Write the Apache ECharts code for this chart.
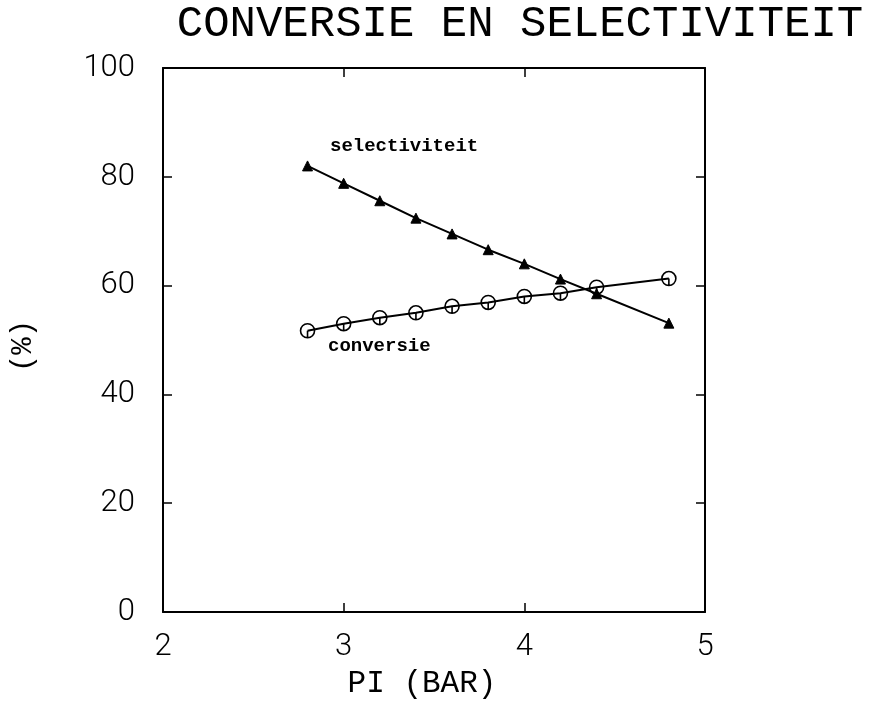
<!DOCTYPE html>
<html>
<head>
<meta charset="utf-8">
<script src="https://cdn.jsdelivr.net/npm/echarts@6/dist/echarts.min.js"></script>
<style>
  html, body { margin: 0; padding: 0; background: #fff; }
  #chart { width: 878px; height: 705px; }
</style>
</head>
<body>
<div id="chart"></div>
<script>
// Pressure PI (bar) at each measurement
const pressure = [2.8, 3.0, 3.2, 3.4, 3.6, 3.8, 4.0, 4.2, 4.4, 4.8];
// Selectivity (%) per pressure
const selectiviteit = [82.0, 78.8, 75.6, 72.4, 69.5, 66.6, 64.0, 61.2, 58.5, 53.1];
// Conversion (%) per pressure
const conversie = [51.7, 53.0, 54.1, 55.0, 56.2, 56.9, 58.0, 58.6, 59.7, 61.3];

const titleText = 'CONVERSIE EN SELECTIVITEIT';
const xName = 'PI (BAR)';
const yName = '(%)';

const chart = echarts.init(document.getElementById('chart'), null, { renderer: 'canvas' });

const tickFont = { fontFamily: 'Roboto', fontSize: 31, fontWeight: 300, color: '#000' };
const frameLine = { show: true, onZero: false, lineStyle: { color: '#000', width: 2 } };
const innerTick = { show: true, inside: true, length: 9, lineStyle: { color: '#000', width: 1.5 } };

function pairs(xs, ys) { return xs.map((x, i) => [x, ys[i]]); }

// circle with a short vertical stroke in its lower half
const circleMark = 'path://M10,0A10,10,0,1,1,-10,0A10,10,0,1,1,10,0ZM0,0L0,10';

chart.setOption({
  animation: false,
  backgroundColor: '#fff',
  grid: { left: 163, right: 173, top: 68, bottom: 93, containLabel: false },
  xAxis: [
    {
      type: 'value', position: 'bottom', min: 2, max: 5, interval: 1,
      axisLine: frameLine, axisTick: innerTick, splitLine: { show: false },
      axisLabel: Object.assign({ margin: 20 }, tickFont)
    },
    {
      type: 'value', position: 'top', min: 2, max: 5, interval: 1,
      axisLine: frameLine, axisTick: innerTick, splitLine: { show: false },
      axisLabel: { show: false }
    }
  ],
  yAxis: [
    {
      type: 'value', position: 'left', min: 0, max: 100, interval: 20,
      axisLine: frameLine, axisTick: innerTick, splitLine: { show: false },
      axisLabel: Object.assign({ margin: 28 }, tickFont)
    },
    {
      type: 'value', position: 'right', min: 0, max: 100, interval: 20,
      axisLine: frameLine, axisTick: innerTick, splitLine: { show: false },
      axisLabel: { show: false }
    }
  ],
  series: [
    {
      name: 'selectiviteit', type: 'line',
      data: pairs(pressure, selectiviteit),
      symbol: 'triangle', symbolSize: 10,
      lineStyle: { color: '#000', width: 2 },
      itemStyle: { color: '#000', borderColor: '#000', borderWidth: 1 },
      z: 3
    },
    {
      name: 'conversie', type: 'line',
      data: pairs(pressure, conversie),
      symbol: circleMark, symbolSize: 14, symbolKeepAspect: true,
      lineStyle: { color: '#000', width: 2 },
      itemStyle: { color: 'rgba(0,0,0,0)', borderColor: '#000', borderWidth: 1.6 },
      z: 4
    }
  ],
  graphic: [
    {
      type: 'text', x: 520, y: 24,
      style: { text: titleText, font: '44px "Liberation Mono"', fill: '#000',
               textAlign: 'center', textVerticalAlign: 'middle' }
    },
    {
      type: 'text', x: 422, y: 684,
      style: { text: xName, font: '31px "Liberation Mono"', fill: '#000',
               textAlign: 'center', textVerticalAlign: 'middle' }
    },
    {
      type: 'text', x: 23, y: 346, rotation: Math.PI / 2,
      style: { text: yName, font: '29px "Liberation Mono"', fill: '#000',
               textAlign: 'center', textVerticalAlign: 'middle' }
    },
    {
      type: 'text', x: 330, y: 146,
      style: { text: 'selectiviteit', font: 'bold 19px "Liberation Mono"', fill: '#000',
               textAlign: 'left', textVerticalAlign: 'middle' }
    },
    {
      type: 'text', x: 328, y: 346,
      style: { text: 'conversie', font: 'bold 19px "Liberation Mono"', fill: '#000',
               textAlign: 'left', textVerticalAlign: 'middle' }
    }
  ]
});
</script>
</body>
</html>
